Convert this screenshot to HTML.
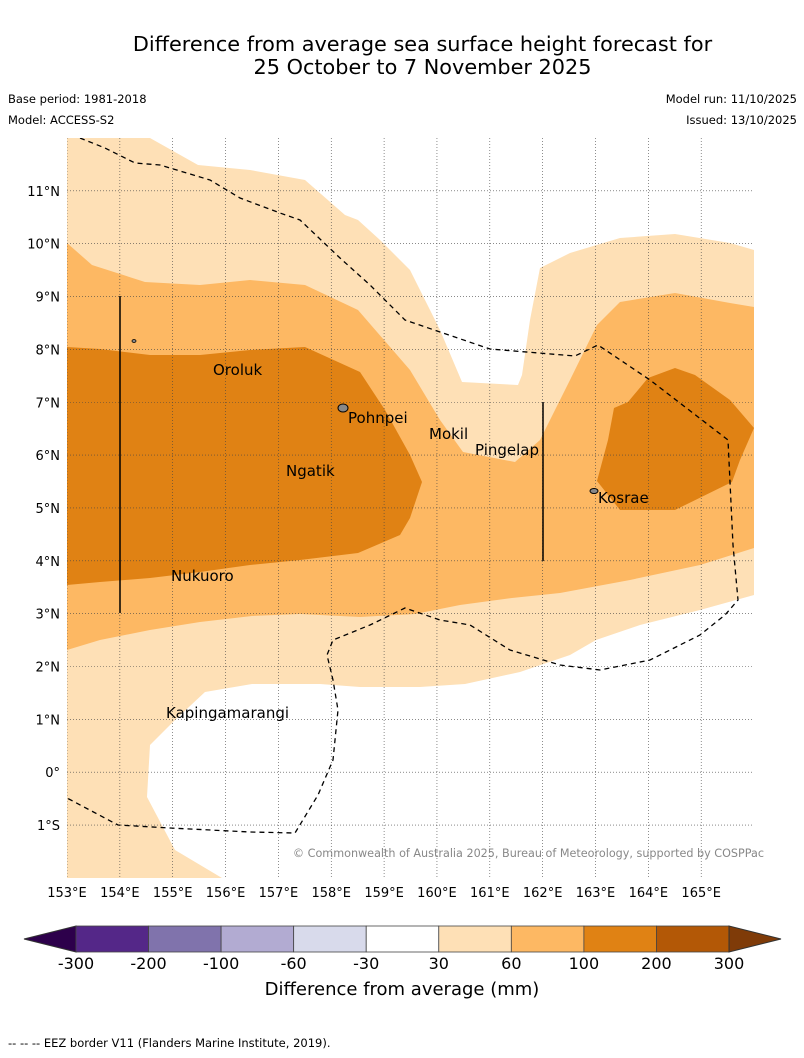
<!DOCTYPE html>
<html><head><meta charset="utf-8"><style>
body{margin:0;background:#fff;font-family:"DejaVu Sans","Liberation Sans",sans-serif;}
#wrap{position:relative;width:804px;height:1058px;overflow:hidden;}
.t{position:absolute;white-space:nowrap;color:#000;}
svg text{font-family:"DejaVu Sans","Liberation Sans",sans-serif;}
</style></head><body>
<div id="wrap">
<div class="t" style="left:0;width:845px;text-align:center;top:33px;font-size:20.8px;line-height:23px;">Difference from average sea surface height forecast for<br>25 October to 7 November 2025</div>
<div class="t" style="left:8px;top:92px;font-size:11.5px;">Base period: 1981-2018</div>
<div class="t" style="left:8px;top:113px;font-size:11.5px;">Model: ACCESS-S2</div>
<div class="t" style="right:7px;top:92px;font-size:11.5px;">Model run: 11/10/2025</div>
<div class="t" style="right:7px;top:113px;font-size:11.5px;">Issued: 13/10/2025</div>
<svg id="map" width="804" height="1058" style="position:absolute;left:0;top:0">
<defs><clipPath id="cp"><rect x="67" y="138" width="687" height="740"/></clipPath></defs>
<g clip-path="url(#cp)">
<rect x="67" y="138" width="687" height="740" fill="#fff"/>
<polygon fill="#fee0b6" points="67,138 150,138 198,165 250,170 305,180 345,215 358,220 380,240 410,270 440,330 462,382 518,385 522,375 530,320 540,268 570,253 620,238 675,234 730,243 754,250 754,595 700,610 640,625 596,640 570,655 520,672 465,684 420,687 360,687 320,684 252,684 205,692 175,720 150,745 147,797 175,850 222,878 67,878"/>
<polygon fill="#fdb863" points="67,243 92,265 145,282 200,285 250,280 305,285 358,310 410,370 440,420 463,452 515,462 540,440 570,380 597,325 620,302 675,293 730,303 754,307 754,548 700,565 630,580 560,593 512,598 460,605 415,614 360,617 300,614 252,616 200,622 150,630 100,640 67,650"/>
<polygon fill="#e08214" points="67,347 100,349 150,355 200,355 250,350 305,347 360,372 385,410 410,455 422,482 410,518 400,535 358,553 300,560 250,565 200,572 150,578 100,582 67,585"/>
<polygon fill="#e08214" points="597,481 608,440 614,408 628,402 648,378 675,368 695,375 730,400 754,428 740,460 732,482 675,510 620,510"/>
<g id="grid"></g>
<polyline fill="none" stroke="#000" stroke-width="1.3" stroke-dasharray="5,4" points="80,138 105,148 135,163 160,165 210,180 240,198 280,213 300,220 340,258 370,285 405,320 440,332 490,349 575,356 598,345 650,380 728,440 733,545 738,600 725,615 700,635 650,660 600,670 560,665 510,650 470,625 440,620 405,608 370,625 333,640 327,655 333,680 338,710 333,760 318,795 295,833 250,832 170,828 118,825 67,798"/>
<line x1="120" y1="296" x2="120" y2="613" stroke="#000" stroke-width="1.5"/>
<line x1="543" y1="402" x2="543" y2="561" stroke="#000" stroke-width="1.5"/>
<ellipse cx="343" cy="408" rx="5" ry="4" fill="#888" stroke="#000" stroke-width="1"/>
<ellipse cx="594" cy="491" rx="4" ry="2.5" fill="#888" stroke="#000" stroke-width="1"/>
<ellipse cx="134" cy="341" rx="2" ry="1.5" fill="#888" stroke="#000" stroke-width="0.8"/>
</g>
<text x="213" y="375" font-size="15">Oroluk</text>
<text x="348" y="423" font-size="15">Pohnpei</text>
<text x="429" y="439" font-size="15">Mokil</text>
<text x="475" y="455" font-size="15">Pingelap</text>
<text x="286" y="476" font-size="15">Ngatik</text>
<text x="598" y="503" font-size="15">Kosrae</text>
<text x="171" y="581" font-size="15">Nukuoro</text>
<text x="166" y="718" font-size="15">Kapingamarangi</text>
<text x="764" y="857" font-size="11.2" fill="#888" text-anchor="end">© Commonwealth of Australia 2025, Bureau of Meteorology, supported by COSPPac</text>
<g id="axes"></g>
<g id="cbar"></g>
<text x="402" y="995" font-size="18" text-anchor="middle">Difference from average (mm)</text>
<text x="8" y="1047" font-size="11.5">-- -- -- EEZ border V11 (Flanders Marine Institute, 2019).</text>
</svg>
</div>
<script>
const lonTicks=[153,154,155,156,157,158,159,160,161,162,163,164,165];
const latTicks=[11,10,9,8,7,6,5,4,3,2,1,0,-1];
const cbarLabels=["-300","-200","-100","-60","-30","30","60","100","200","300"];
const cbarColors=["#542788","#8073ac","#b2abd2","#d8daeb","#ffffff","#fee0b6","#fdb863","#e08214","#b35806"];
const NS="http://www.w3.org/2000/svg";
const X=lon=>67+(lon-153)*52.85, Y=lat=>138+(12-lat)*52.85;
function mk(t,a,p){const e=document.createElementNS(NS,t);for(const k in a)e.setAttribute(k,a[k]);p.appendChild(e);return e;}
const grid=document.getElementById('grid'),axes=document.getElementById('axes'),cb=document.getElementById('cbar');
lonTicks.forEach(l=>{
 const g=mk('line',{x1:X(l),x2:X(l),y1:138,y2:878,stroke:'#444','stroke-width':0.6,'stroke-dasharray':'1,2'},grid);
 
 
 const t=mk('text',{x:X(l),y:897,'font-size':13,'text-anchor':'middle'},axes);t.textContent=l+'°E';
 
 
});
latTicks.forEach(l=>{
 const g=mk('line',{x1:67,x2:754,y1:Y(l),y2:Y(l),stroke:'#444','stroke-width':0.6,'stroke-dasharray':'1,2'},grid);
 
 
 const t=mk('text',{x:60,y:Y(l)+5,'font-size':13,'text-anchor':'end'},axes);
 t.textContent=l>0?l+'°N':(l<0?(-l)+'°S':'0°');
 
 
});
const cx0=76,cw=(729-76)/cbarColors.length,cy=926,ch=26;
const lt=mk('polygon',{points:`24,939 ${cx0},${cy} ${cx0},${cy+ch}`,fill:'#2d004b',stroke:'#333','stroke-width':1},cb);


cbarColors.forEach((c,i)=>{
 const r=mk('rect',{x:cx0+i*cw,y:cy,width:cw,height:ch,fill:c,stroke:'#444','stroke-width':0.8},cb);
 
 
});
const rt=mk('polygon',{points:`781,939 729,${cy} 729,${cy+ch}`,fill:'#7f3b08',stroke:'#333','stroke-width':1},cb);


cbarLabels.forEach((s,i)=>{
 const t=mk('text',{x:cx0+i*cw,y:969,'font-size':16,'text-anchor':'middle'},cb);t.textContent=s;
 
 
});
</script>
</body></html>
